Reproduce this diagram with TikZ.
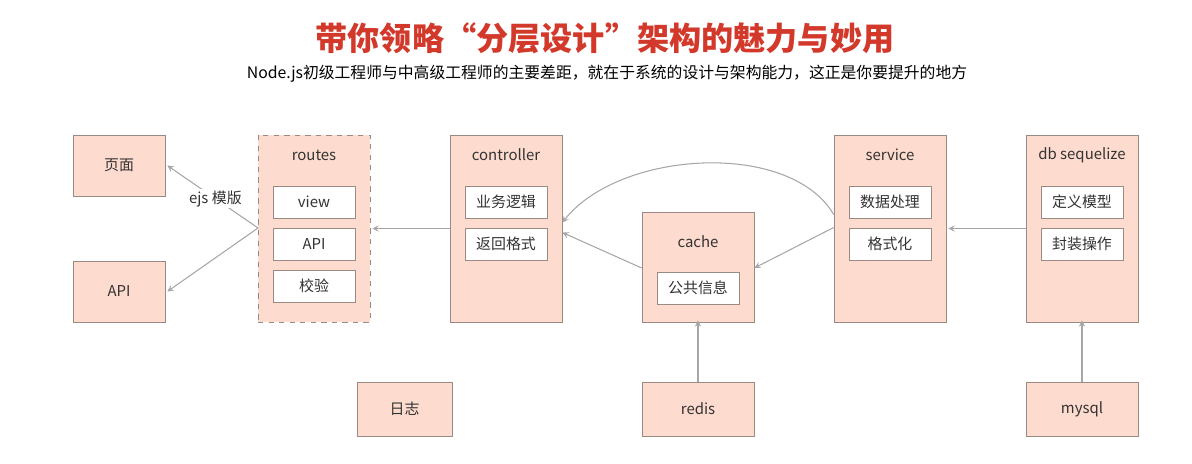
\documentclass[tikz,border=0pt]{standalone}
\usepackage{fontspec}
\setmainfont{Noto Sans CJK SC}
\usepackage{xcolor}
\usetikzlibrary{arrows, positioning, calc}
\definecolor{boxfill}{HTML}{FDDBCE}
\definecolor{boxline}{HTML}{9A8A84}
\definecolor{titlered}{HTML}{D2392B}
\tikzstyle{arrow} = [draw=gray!70, line width=0.6pt, ->, >=stealth]
\tikzstyle{box} = [draw=boxline, fill=boxfill, inner sep=0pt, font=\fontsize{8.5}{10}\selectfont, text=black!80]
\tikzstyle{item} = [draw=boxline, fill=white, minimum width=82*0.02cm, minimum height=32*0.02cm, inner sep=0pt, font=\fontsize{8.5}{10}\selectfont, text=black!80]

\begin{document}
\begin{tikzpicture}[x=0.02cm, y=-0.02cm]
\useasboundingbox (0,0) rectangle (1192,463);

% Title
\node (title) at (605,38) {\fontsize{18.3}{21}\selectfont\bfseries\color{titlered}带你领略“分层设计”架构的魅力与妙用};
\node (sub) at (607,74) {\fontsize{9}{11}\selectfont Node.js初级工程师与中高级工程师的主要差距，就在于系统的设计与架构能力，这正是你要提升的地方};

% Left outputs
\node[box, minimum width=92*0.02cm, minimum height=61*0.02cm] (page) at (119,165.5) {页面};
\node[box, minimum width=92*0.02cm, minimum height=61*0.02cm] (api) at (119,291.5) {API};

% Layers
\node[box, dashed, minimum width=112*0.02cm, minimum height=187*0.02cm] (routes) at (314,228.5) {};
\node[box, minimum width=112*0.02cm, minimum height=187*0.02cm] (ctrl) at (506,228.5) {};
\node[box, minimum width=112*0.02cm, minimum height=110*0.02cm] (cache) at (698,267) {};
\node[box, minimum width=112*0.02cm, minimum height=187*0.02cm] (service) at (890,228.5) {};
\node[box, minimum width=112*0.02cm, minimum height=187*0.02cm] (db) at (1082,228.5) {};

% Titles inside layers
\node[font=\fontsize{8.5}{10}\selectfont, text=black!80] (routesT) at (314,155) {routes};
\node[font=\fontsize{8.5}{10}\selectfont, text=black!80] (ctrlT) at (506,155) {controller};
\node[font=\fontsize{8.5}{10}\selectfont, text=black!80] (cacheT) at (698,242) {cache};
\node[font=\fontsize{8.5}{10}\selectfont, text=black!80] (serviceT) at (890,155) {service};
\node[font=\fontsize{8.5}{10}\selectfont, text=black!80] (dbT) at (1082,155) {db sequelize};

% Items
\node[item] (view) at (314,202) {view};
\node[item] (rapi) at (314,244) {API};
\node[item] (check) at (314,286) {校验};
\node[item] (logic) at (506,202) {业务逻辑};
\node[item] (fmt) at (506,244) {返回格式};
\node[item] (info) at (698,288) {公共信息};
\node[item] (proc) at (890,202) {数据处理};
\node[item] (form) at (890,244) {格式化};
\node[item] (model) at (1082,202) {定义模型};
\node[item] (wrap) at (1082,244) {封装操作};

% Bottom
\node[box, minimum width=95*0.02cm, minimum height=54*0.02cm] (log) at (404.5,409) {日志};
\node[box, minimum width=112*0.02cm, minimum height=54*0.02cm] (redis) at (698,409) {redis};
\node[box, minimum width=112*0.02cm, minimum height=54*0.02cm] (mysql) at (1082,409) {mysql};

% Arrows
\coordinate (rw) at (258,228);
\draw[arrow] (rw) -- node[pos=0.47, fill=white, inner sep=1pt, font=\fontsize{8.5}{10}\selectfont, text=black!80] {ejs 模版} ($(page.east)+(2,0)$);
\draw[arrow] (rw) -- ($(api.east)+(2,0)$);
\draw[arrow] (ctrl.west) -- ($(routes.east)+(2,0)$);
\draw[arrow] ($(cache.west)+(0,1)$) -- ($(ctrl.east)+(0,4)$);
\draw[arrow] ($(service.west)+(0,-1)$) -- ($(cache.east)+(0,1)$);
\draw[arrow] ($(service.west)+(0,-14)$) .. controls (790,140) and (620,150) .. ($(ctrl.east)+(0,-6)$);
\draw[arrow] (db.west) -- ($(service.east)+(2,0)$);
\draw[arrow] (redis.north) -- ($(cache.south)+(0,-2)$);
\draw[arrow] (mysql.north) -- ($(db.south)+(0,-2)$);
\end{tikzpicture}
\end{document}
